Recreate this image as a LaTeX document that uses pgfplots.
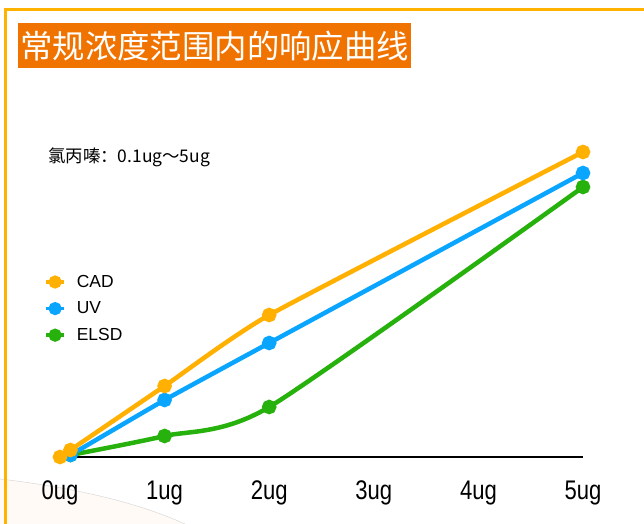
\documentclass[border=0pt]{standalone}
\usepackage{pgfplots}
\pgfplotsset{compat=1.18}
\usepackage{fontspec}
\setmainfont{Liberation Sans}
\newfontfamily\cjk{Noto Sans CJK SC}
\newfontfamily\tickfont[FakeStretch=0.82]{Liberation Sans}
\definecolor{cad}{HTML}{FFB000}
\definecolor{uv}{HTML}{0AA5FF}
\definecolor{elsd}{HTML}{27B10C}
\definecolor{titlebg}{HTML}{F07300}
\definecolor{frameor}{HTML}{FFB300}
\begin{document}
\begin{tikzpicture}
\begin{scope}[x=1bp,y=1bp]
\path[use as bounding box, fill=white] (0,0) rectangle (644,524);
\fill[orange!4] (0,45) .. controls (60,38) and (130,25) .. (185,0) -- (0,0) -- cycle;
\draw[gray!30, line width=0.5bp] (0,45) .. controls (60,38) and (130,25) .. (185,0);
\draw[frameor, line width=3bp] (4,514.5) -- (644,514.5);
\draw[frameor, line width=3bp] (5.5,516) -- (5.5,0);
\node[fill=titlebg, text=white, font=\cjk\fontsize{32.5}{32.5}\selectfont, inner sep=0pt, minimum height=45bp, minimum width=393bp, anchor=north west] at (18,501) {常规浓度范围内的响应曲线};
\node[anchor=west, font=\cjk\fontsize{17.5}{17.5}\selectfont, inner sep=0pt] at (48,367) {氯丙嗪：0.1ug～5ug};
\end{scope}
\begin{axis}[
  at={(60bp,67bp)}, anchor=south west,
  scale only axis, width=523bp, height=310bp,
  xmin=0, xmax=5, ymin=0, ymax=310,
  clip=false,
  axis line style={draw=none},
  xtick={0,1,2,3,4,5},
  xticklabels={0ug,1ug,2ug,3ug,4ug,5ug},
  ytick=\empty,
  major tick length=0pt,
  /pgf/number format/assume math mode=true,
  xticklabel style={font=\tickfont\fontsize{27}{27}\selectfont, anchor=base, yshift=-43bp},
  legend style={draw=none, fill=none, font=\fontsize{17.5}{17.5}\selectfont,
    at={(axis cs:-0.18,184)}, anchor=north west, row sep=13bp, column sep=11bp,
    nodes={inner sep=0pt}},
  legend cell align=left,
  legend image code/.code={\draw[mark repeat=2,mark phase=2,#1, line width=3.5bp, mark size=4.8bp] plot coordinates {(0bp,0bp) (9bp,0bp) (18bp,0bp)};},
  reverse legend,
  every axis plot/.append style={line width=4.5bp, mark=*, mark size=5bp, smooth},
]
\draw[black, line width=2.5bp] (axis cs:0.1,0) -- (axis cs:5,0);
\addplot[color=elsd, tension=0.4, mark options={fill=elsd, draw=none}] coordinates {(0.1,2) (1,21) (2,50) (5,270)};
\addlegendentry{ELSD}
\addplot[color=uv, tension=0.25, mark options={fill=uv, draw=none}] coordinates {(0.1,2) (1,57) (2,114) (5,284)};
\addlegendentry{UV}
\addplot[color=cad, tension=0.3, mark options={fill=cad, draw=none}] coordinates {(0,0) (0.1,7) (1,71) (2,142) (5,305)};
\addlegendentry{CAD}
\end{axis}
\end{tikzpicture}
\end{document}
